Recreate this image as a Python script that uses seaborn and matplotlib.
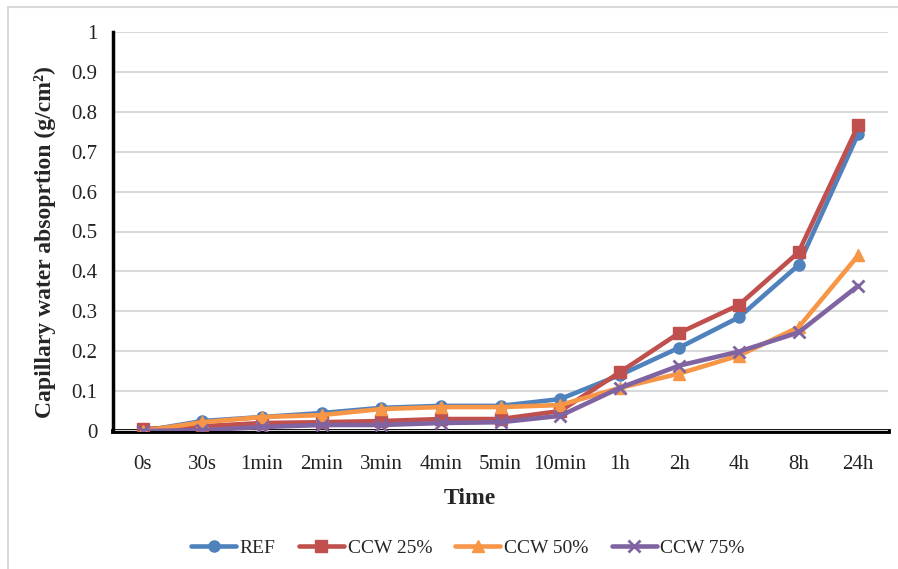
import matplotlib
matplotlib.use("Agg")
import matplotlib.pyplot as plt
from matplotlib.patches import Rectangle
import numpy as np
import pandas as pd
import seaborn as sns

times = ["0s", "30s", "1min", "2min", "3min", "4min", "5min", "10min",
         "1h", "2h", "4h", "8h", "24h"]
series_names = ["REF", "CCW 25%", "CCW 50%", "CCW 75%"]
ref = [0.0, 0.025, 0.035, 0.045, 0.058, 0.063, 0.063, 0.08, 0.14, 0.209, 0.285, 0.416, 0.745]
ccw25 = [0.005, 0.012, 0.02, 0.022, 0.025, 0.03, 0.03, 0.05, 0.147, 0.246, 0.316, 0.448, 0.766]
ccw50 = [0.0, 0.022, 0.035, 0.04, 0.055, 0.06, 0.06, 0.065, 0.108, 0.144, 0.189, 0.26, 0.44]
ccw75 = [0.0, 0.002, 0.01, 0.015, 0.015, 0.02, 0.022, 0.038, 0.108, 0.164, 0.199, 0.247, 0.364]

colors = ["#4F81BD", "#C0504D", "#F79646", "#8064A2"]

rows = []
for name, vals in zip(series_names, [ref, ccw25, ccw50, ccw75]):
    for i, v in enumerate(vals):
        rows.append({"pos": i, "value": v, "series": name})
df = pd.DataFrame(rows)

sns.set_style("white")
plt.rcParams["font.family"] = ["Liberation Serif", "DejaVu Serif"]

fig = plt.figure(figsize=(8.98, 5.69), dpi=100)
ax = fig.add_axes([113 / 898, 1 - 431 / 569, 775 / 898, 399 / 569])

sns.lineplot(
    data=df, x="pos", y="value", hue="series", style="series",
    hue_order=series_names, style_order=series_names,
    palette=colors, markers=["o", "s", "^", "X"], dashes=False,
    linewidth=3.3, markersize=8, legend=False, ax=ax,
)
# the last series uses a thin cross like the original
ax.lines[3].set_marker("x")
ax.lines[3].set_markersize(9)
for line in ax.lines:
    line.set_markeredgecolor(line.get_color())
    line.set_markeredgewidth(2.0 if line.get_marker() == "x" else 1.0)
    line.set_solid_joinstyle("round")

ax.set_xlim(-0.5, len(times) - 0.5)
ax.set_ylim(0, 1)
ax.set_xticks(range(len(times)), times)
ax.set_yticks(np.arange(0, 1.01, 0.1))
ax.set_yticklabels(["0", "0.1", "0.2", "0.3", "0.4", "0.5", "0.6", "0.7", "0.8", "0.9", "1"])
ax.tick_params(axis="x", length=0, pad=17, labelsize=15, colors="#222222")
ax.tick_params(axis="y", length=0, pad=11, labelsize=15, colors="#222222")
ax.yaxis.grid(True, color="#D9D9D9", linewidth=1.5)
ax.set_axisbelow(True)
ax.set_xlabel("")
ax.set_ylabel("")
for side in ["top", "right"]:
    ax.spines[side].set_visible(False)
ax.spines["left"].set_linewidth(2.5)
ax.spines["left"].set_color("black")
ax.spines["bottom"].set_linewidth(3.5)
ax.spines["bottom"].set_color("black")
ax.spines["bottom"].set_zorder(0.5)

fig.text(45 / 898, 1 - 242 / 569, "Capillary water absoprtion (g/cm²)",
         rotation=90, ha="center", va="center", fontsize=17, fontweight="bold")
fig.text(470 / 898, 1 - 498 / 569, "Time", ha="center", va="center",
         fontsize=17, fontweight="bold")

fig.legend(ax.lines[:4], series_names, loc="center", bbox_to_anchor=(468 / 898, 1 - 548 / 569),
           ncol=4, frameon=False, fontsize=14, handlelength=2.3, handletextpad=0.2,
           columnspacing=1.2)

fig.patches.append(Rectangle((8 / 898, -0.01), 1.0, 1 - 7 / 569 + 0.01, transform=fig.transFigure,
                             fill=False, edgecolor="#D9D9D9", linewidth=1.5))

fig.savefig("out.png", dpi=100)
